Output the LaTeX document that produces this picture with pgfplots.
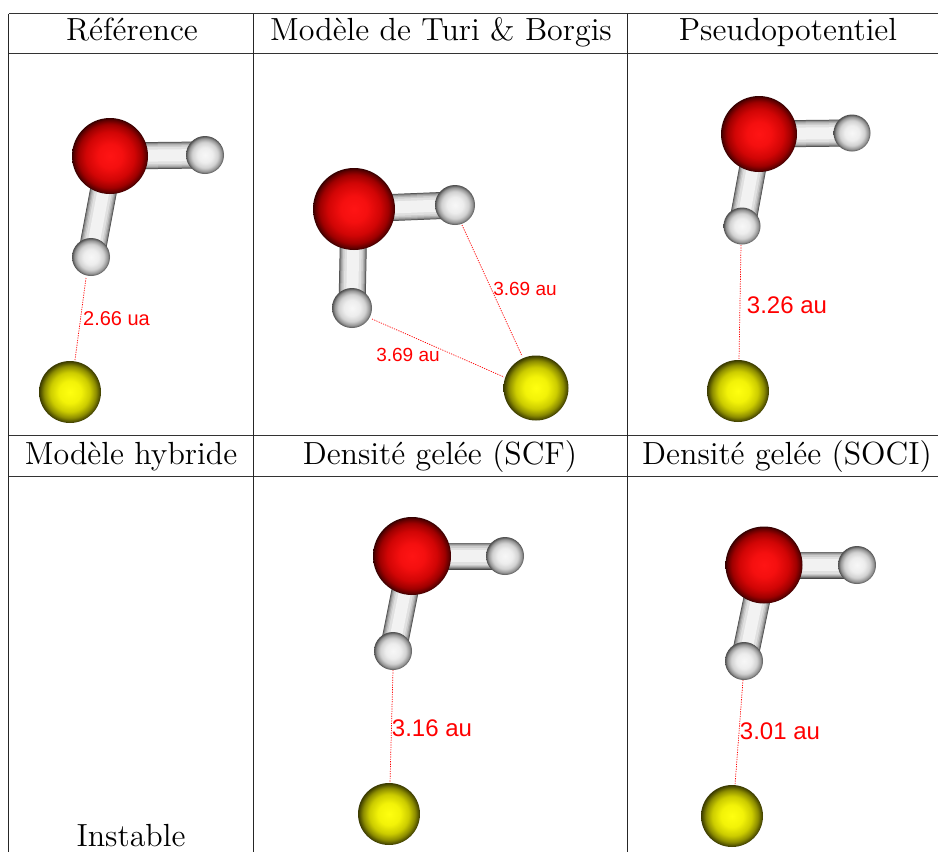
\documentclass[border=0pt]{standalone}
\usepackage{fontspec}
\usepackage{pgfplots}
\pgfplotsset{compat=1.18}
\newfontfamily\lab{Liberation Sans}
\newfontfamily\hd{lmroman12-regular.otf}
\pgfdeclareradialshading{shO}{\pgfpointorigin}{rgb(0bp)=(1,.08,.08); rgb(8bp)=(.96,.06,.06); rgb(16bp)=(.82,.02,.02); rgb(21bp)=(.62,0,0); rgb(24bp)=(.35,0,0); rgb(25bp)=(.2,0,0); rgb(50bp)=(.2,0,0)}
\pgfdeclareradialshading{shH}{\pgfpointorigin}{rgb(0bp)=(.97,.97,.97); rgb(10bp)=(.93,.93,.93); rgb(17bp)=(.82,.82,.82); rgb(22bp)=(.58,.58,.58); rgb(25bp)=(.3,.3,.3); rgb(50bp)=(.3,.3,.3)}
\pgfdeclareradialshading{shS}{\pgfpointorigin}{rgb(0bp)=(1,1,.06); rgb(9bp)=(.95,.95,.03); rgb(16bp)=(.8,.8,0); rgb(21bp)=(.55,.55,0); rgb(25bp)=(.22,.22,0); rgb(50bp)=(.22,.22,0)}
\pgfdeclareplotmark{atomO}{\pgfpathcircle{\pgfpointorigin}{\pgfplotmarksize}\pgfshadepath{shO}{0}\pgfusepath{discard}}
\pgfdeclareplotmark{atomH}{\pgfpathcircle{\pgfpointorigin}{\pgfplotmarksize}\pgfshadepath{shH}{0}\pgfusepath{discard}}
\pgfdeclareplotmark{atomS}{\pgfpathcircle{\pgfpointorigin}{\pgfplotmarksize}\pgfshadepath{shS}{0}\pgfusepath{discard}}
% bond: layered strokes that give a cylinder
\newcommand\bond[2]{%
 \addplot[no marks,line width=27pt,color=black!72] coordinates {#1 #2};
 \addplot[no marks,line width=26pt,color=black!56] coordinates {#1 #2};
 \addplot[no marks,line width=24.5pt,color=black!42] coordinates {#1 #2};
 \addplot[no marks,line width=22.5pt,color=black!30] coordinates {#1 #2};
 \addplot[no marks,line width=20pt,color=black!20] coordinates {#1 #2};
 \addplot[no marks,line width=17pt,color=black!12] coordinates {#1 #2};
 \addplot[no marks,line width=12pt,color=black!5] coordinates {#1 #2};
}
\newcommand\dist[2]{\addplot[no marks,red,line width=.7pt,dash pattern=on 1.2pt off 1.2pt] coordinates {#1 #2};}
\newcommand\atom[3]{\addplot[only marks,mark=atom#1,mark size=#2pt] coordinates {#3};}
\newcommand\rowline[1]{\addplot[no marks,black!80,line width=1pt] coordinates {(9,#1) (938,#1)};}
\newcommand\colline[1]{\addplot[no marks,black!85,line width=1pt] coordinates {(#1,13.5) (#1,852)};}
\begin{document}
\begin{tikzpicture}
\path[use as bounding box] (0,0) rectangle (938pt,852pt);
\begin{axis}[at={(0,0)},anchor=south west,scale only axis,width=938pt,height=852pt,xmin=0,xmax=938,ymin=0,ymax=852,y dir=reverse,hide axis,
  every node/.append style={inner sep=0pt,outer sep=0pt}]
% table rules
\rowline{13.5}\rowline{53}\rowline{435}\rowline{476}
\colline{8.7}\colline{253.7}\colline{627.7}
% cell 1
\dist{(86,278)}{(75,360)}
\bond{(110,156)}{(205,155)}\bond{(110,156)}{(91,257)}
\atom{O}{38}{(110,156)}\atom{H}{19}{(205,155)}\atom{H}{19}{(91,257)}\atom{S}{31}{(70,392)}
% cell 2
\dist{(462,225)}{(522,356)}\dist{(372,319)}{(504,377)}
\bond{(354,209)}{(455,205)}\bond{(354,209)}{(352,308)}
\atom{O}{41}{(354,209)}\atom{H}{20}{(455,205)}\atom{H}{20}{(352,308)}\atom{S}{32.5}{(536,388)}
% cell 3
\dist{(741,245)}{(739,360)}
\bond{(759,134)}{(852,133)}\bond{(759,134)}{(742,226)}
\atom{O}{38}{(759,134)}\atom{H}{18.5}{(852,133)}\atom{H}{18.5}{(742,226)}\atom{S}{31}{(738,391)}
% cell 5
\dist{(393,670)}{(390,783)}
\bond{(412,556)}{(505,556)}\bond{(412,556)}{(393,651)}
\atom{O}{39}{(412,556)}\atom{H}{19}{(505,556)}\atom{H}{19}{(393,651)}\atom{S}{31}{(389,814)}
% cell 6
\dist{(743,680)}{(735,785)}
\bond{(764,565)}{(857,565)}\bond{(764,565)}{(744,661)}
\atom{O}{38.5}{(764,565)}\atom{H}{19}{(857,565)}\atom{H}{19}{(744,661)}\atom{S}{31}{(732,816)}
% headers
\node[anchor=base,font=\hd\fontsize{32}{34}\selectfont] at (axis cs:132,40.5) {Référence};
\node[anchor=base,font=\hd\fontsize{32}{34}\selectfont] at (axis cs:441,40.5) {Modèle de Turi \& Borgis};
\node[anchor=base,font=\hd\fontsize{32}{34}\selectfont] at (axis cs:788,40.5) {Pseudopotentiel};
\node[anchor=base,font=\hd\fontsize{32}{34}\selectfont] at (axis cs:131,464.5) {Modèle hybride};
\node[anchor=base,font=\hd\fontsize{32}{34}\selectfont] at (axis cs:440,464.5) {Densité gelée (SCF)};
\node[anchor=base,font=\hd\fontsize{32}{34}\selectfont] at (axis cs:787,464.5) {Densité gelée (SOCI)};
\node[anchor=base,font=\hd\fontsize{32}{34}\selectfont] at (axis cs:131,846) {Instable};
% distance labels
\node[red,font=\lab\fontsize{20}{22}\selectfont] at (axis cs:116.5,319) {2.66 ua};
\node[red,font=\lab\fontsize{19}{21}\selectfont] at (axis cs:525,289) {3.69 au};
\node[red,font=\lab\fontsize{19}{21}\selectfont] at (axis cs:408,355) {3.69 au};
\node[red,font=\lab\fontsize{24}{26}\selectfont] at (axis cs:787,305) {3.26 au};
\node[red,font=\lab\fontsize{24}{26}\selectfont] at (axis cs:432,728) {3.16 au};
\node[red,font=\lab\fontsize{24}{26}\selectfont] at (axis cs:780,731) {3.01 au};
\end{axis}
\end{tikzpicture}
\end{document}
